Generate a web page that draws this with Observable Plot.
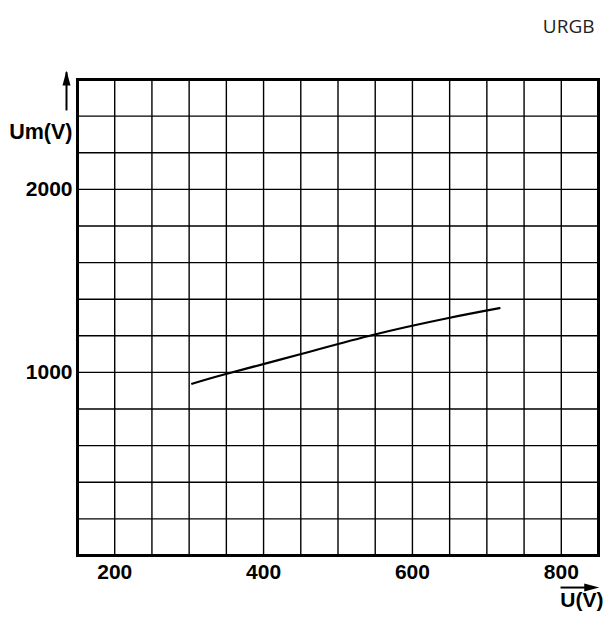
<!DOCTYPE html>
<html><head><meta charset="utf-8">
<script src="https://cdn.jsdelivr.net/npm/d3@7"></script>
<script src="https://cdn.jsdelivr.net/npm/@observablehq/plot@0.6"></script>
<style>body{margin:0;background:#fff}</style>
</head><body><div id="chart"></div>
<script>
// Curve data
const U  = [304, 347, 448, 548, 647, 717];
const Um = [938, 989, 1098, 1206, 1296, 1351];
// Axes
const xDomain = [150, 850];
const yDomain = [0, 2600];
const xGrid = d3.range(150, 851, 50);
const yGrid = d3.range(0, 2601, 200);
const xTicks = [200, 400, 600, 800];
const yTicks = [1000, 2000];
const xLabel = "U(V)";
const yLabel = "Um(V)";
const corner = "URGB";

const data = U.map((u, i) => ({u, um: Um[i]}));
const font = "'Liberation Sans', Arial, sans-serif";
const head = {draw(ctx){ ctx.moveTo(0,0); ctx.lineTo(4,15); ctx.lineTo(-4,15); ctx.closePath(); }};

const chart = Plot.plot({
  width: 608, height: 617,
  marginTop: 79, marginBottom: 62, marginLeft: 77, marginRight: 10,
  style: {fontFamily: font, background: "#fff"},
  x: {domain: xDomain, axis: null},
  y: {domain: yDomain, axis: null},
  marks: [
    Plot.gridX(xGrid, {stroke: "#000", strokeOpacity: 1, strokeWidth: 1.4}),
    Plot.gridY(yGrid, {stroke: "#000", strokeOpacity: 1, strokeWidth: 1.4}),
    Plot.frame({stroke: "#000", strokeWidth: 3}),
    Plot.line(data, {x: "u", y: "um", curve: "natural", stroke: "#000", strokeWidth: 2.2}),
    Plot.axisX(xTicks, {tickSize: 0, tickPadding: 9, label: null, tickFormat: d => String(d), fontSize: 21, fontWeight: "bold", fontFamily: font, fill: "#000"}),
    Plot.axisY(yTicks, {tickSize: 0, tickPadding: 5, label: null, tickFormat: d => String(d), fontSize: 21, fontWeight: "bold", fontFamily: font, fill: "#000"}),
    Plot.text([yLabel], {frameAnchor: "left", y: 2310, dx: -5, textAnchor: "end", fontSize: 21.5, fontWeight: "bold", fontFamily: font, fill: "#000"}),
    Plot.text([xLabel], {frameAnchor: "bottom-right", dx: 5, dy: 51, textAnchor: "end", fontSize: 21, fontWeight: "bold", fontFamily: font, fill: "#000"}),
    Plot.text([corner], {frameAnchor: "top-right", dx: -4, dy: -60, textAnchor: "end", fontSize: 19, fill: "#222", fontFamily: "'Open Sans', sans-serif"}),
    // axis arrows
    Plot.link([0], {x1: xDomain[0], x2: xDomain[0], y1: 2431, y2: 2640, dx: -11, stroke: "#000", strokeWidth: 2, clip: false}),
    Plot.dot([0], {x: xDomain[0], y: 2649, dx: -11, symbol: head, fill: "#000", stroke: "none", r: 5}),
    Plot.link([0], {x1: 799, x2: 840, y1: -175, y2: -175, stroke: "#000", strokeWidth: 2}),
    Plot.dot([0], {x: 851, y: -175, symbol: head, rotate: 90, fill: "#000", stroke: "none", r: 5})
  ]
});
document.getElementById("chart").appendChild(chart);
</script>
</body></html>
